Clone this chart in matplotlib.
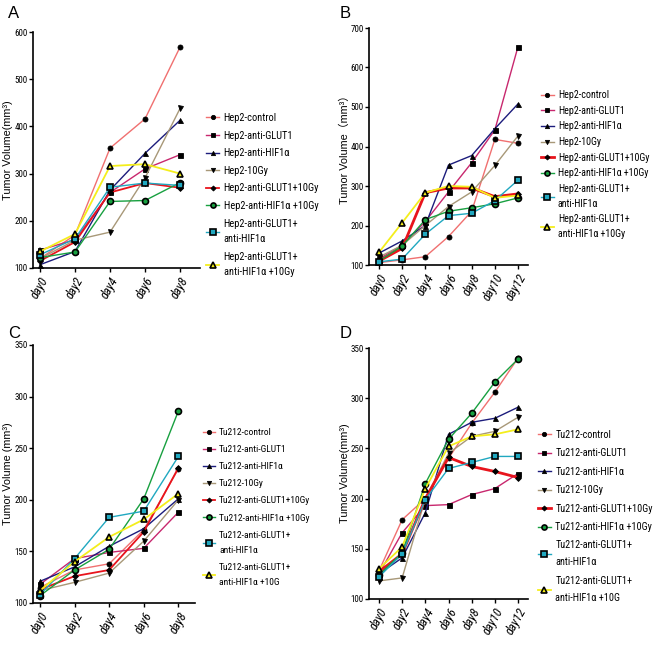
import matplotlib
matplotlib.use("Agg")
import matplotlib.pyplot as plt

plt.rcParams['font.family'] = ['Liberation Sans', 'DejaVu Sans']
narrow = ['Roboto Condensed', 'DejaVu Sans']

# --- data ---
days_short = ["day0", "day2", "day4", "day6", "day8"]
days_long = ["day0", "day2", "day4", "day6", "day8", "day10", "day12"]

# panel A: Hep2, day0-day8
hep2_a_control = [120, 170, 354, 416, 568]
hep2_a_glut1 = [138, 160, 260, 310, 340]
hep2_a_hif1a = [107, 135, 265, 343, 413]
hep2_a_10gy = [120, 159, 176, 291, 438]
hep2_a_glut1_10gy = [115, 155, 260, 280, 270]
hep2_a_hif1a_10gy = [122, 134, 241, 243, 281]
hep2_a_glut1_hif1a = [128, 162, 271, 280, 275]
hep2_a_all = [135, 172, 316, 320, 300]

# panel B: Hep2, day0-day12
hep2_b_control = [106, 113, 121, 172, 236, 418, 408]
hep2_b_glut1 = [115, 150, 210, 285, 359, 442, 653]
hep2_b_hif1a = [130, 161, 200, 353, 377, 445, 508]
hep2_b_10gy = [120, 150, 200, 248, 285, 352, 427]
hep2_b_glut1_10gy = [110, 142, 283, 295, 295, 273, 280]
hep2_b_hif1a_10gy = [110, 148, 215, 236, 245, 255, 270]
hep2_b_glut1_hif1a = [108, 115, 178, 225, 231, 263, 315]
hep2_b_all = [132, 207, 283, 300, 298, 270, 276]

# panel C: Tu212, day0-day8
tu212_c_control = [115, 132, 138, 171, 230]
tu212_c_glut1 = [118, 143, 149, 153, 188]
tu212_c_hif1a = [121, 135, 155, 172, 201]
tu212_c_10gy = [112, 120, 129, 160, 200]
tu212_c_glut1_10gy = [113, 126, 132, 169, 231]
tu212_c_hif1a_10gy = [107, 132, 152, 201, 286]
tu212_c_glut1_hif1a = [108, 143, 183, 189, 242]
tu212_c_all = [112, 140, 164, 181, 206]

# panel D: Tu212, day0-day12
tu212_d_control = [128, 179, 200, 240, 275, 306, 340]
tu212_d_glut1 = [125, 166, 193, 194, 204, 210, 225]
tu212_d_hif1a = [125, 141, 186, 264, 276, 280, 291]
tu212_d_10gy = [118, 121, 200, 245, 262, 267, 281]
tu212_d_glut1_10gy = [127, 145, 200, 241, 232, 227, 221]
tu212_d_hif1a_10gy = [124, 146, 215, 259, 285, 316, 339]
tu212_d_glut1_hif1a = [122, 145, 199, 230, 236, 242, 242]
tu212_d_all = [130, 152, 210, 252, 262, 264, 269]

hep2_labels = ["Hep2-control", "Hep2-anti-GLUT1", "Hep2-anti-HIF1α", "Hep2-10Gy",
               "Hep2-anti-GLUT1+10Gy", "Hep2-anti-HIF1α +10Gy",
               "Hep2-anti-GLUT1+\nanti-HIF1α", "Hep2-anti-GLUT1+\nanti-HIF1α +10Gy"]
tu212_labels = ["Tu212-control", "Tu212-anti-GLUT1", "Tu212-anti-HIF1α", "Tu212-10Gy",
                "Tu212-anti-GLUT1+10Gy", "Tu212-anti-HIF1α +10Gy",
                "Tu212-anti-GLUT1+\nanti-HIF1α", "Tu212-anti-GLUT1+\nanti-HIF1α +10G"]

# --- styles ---
colors = ['#f07070', '#c8286e', '#1c1c7c', '#a89878', '#e8141c', '#18a040', '#20a8c0', '#f4ee1c']
markers = ['o', 's', '^', 'v', 'D', 'o', 's', '^']
open_marker = [False, False, False, False, False, True, True, True]
widths = [1.0, 1.0, 1.0, 1.0, 1.3, 1.0, 1.0, 1.3]

W, H = 655, 645
fig = plt.figure(figsize=(W / 100, H / 100), dpi=100)


def px_axes(left, top, right, bottom):
    return fig.add_axes([left / W, 1 - bottom / H, (right - left) / W, (bottom - top) / H])


def draw_panel(box, days, series, labels, ylim, yticks, ylabel, xlim, ylabel_x,
               leg_xy, leg_font, leg_space, line_sp, thick_red=1.3):
    ax = px_axes(*box)
    x = list(range(len(days)))
    for i, y in enumerate(series):
        lw = thick_red if i == 4 else widths[i]
        face = colors[i] if open_marker[i] else 'black'
        ms = 4.3 if open_marker[i] else 3.6
        if markers[i] == 'D':
            ms = 3.0
        ax.plot(x, y, color=colors[i], lw=lw, marker=markers[i], markersize=ms,
                markerfacecolor=face, markeredgecolor='black',
                markeredgewidth=1.2 if open_marker[i] else 0.6,
                label=labels[i], zorder=2 + i)
    ax.set_xlim(*xlim)
    ax.set_ylim(*ylim)
    ax.set_yticks(yticks)
    ax.set_yticklabels([str(v) for v in yticks], family=narrow, fontsize=6.5)
    ax.set_xticks(x)
    ax.set_xticklabels(days, rotation=60, ha='right', rotation_mode='anchor',
                       fontsize=9, style='italic', family=narrow)
    ax.tick_params(axis='y', length=3, width=1, pad=1)
    ax.tick_params(axis='x', length=3, width=1, pad=2)
    for s in ['top', 'right']:
        ax.spines[s].set_visible(False)
    for s in ['left', 'bottom']:
        ax.spines[s].set_linewidth(1.2)
    ax.set_ylabel(ylabel, fontsize=7.8, family=['Liberation Sans', 'Noto Sans CJK SC'])
    left, top, right, bottom = box
    ax.yaxis.set_label_coords((ylabel_x - left) / (right - left), 0.5)
    leg = ax.legend(loc='upper left', bbox_to_anchor=(leg_xy[0] / W, 1 - leg_xy[1] / H),
                    bbox_transform=fig.transFigure, frameon=False,
                    prop={'family': narrow, 'size': leg_font},
                    borderpad=0, borderaxespad=0, handlelength=1.25, handletextpad=0.45,
                    labelspacing=leg_space, markerscale=0.85)
    for t in leg.get_texts():
        t.set_linespacing(line_sp)
    return ax


axA = draw_panel((33, 32, 200, 268), days_short,
                 [hep2_a_control, hep2_a_glut1, hep2_a_hif1a, hep2_a_10gy,
                  hep2_a_glut1_10gy, hep2_a_hif1a_10gy, hep2_a_glut1_hif1a, hep2_a_all],
                 hep2_labels, (100, 600), [100, 200, 300, 400, 500, 600],
                 "Tumor Volume(mm³)", (-0.2, 4.57), 13.5,
                 (206, 113), 7.5, 0.73, 1.7)

axB = draw_panel((369, 28, 528, 265), days_long,
                 [hep2_b_control, hep2_b_glut1, hep2_b_hif1a, hep2_b_10gy,
                  hep2_b_glut1_10gy, hep2_b_hif1a_10gy, hep2_b_glut1_hif1a, hep2_b_all],
                 hep2_labels, (100, 700), [100, 200, 300, 400, 500, 600, 700],
                 "Tumor Volume（mm³）", (-0.43, 6.43), 350,
                 (541, 90), 7.2, 0.57, 1.55, thick_red=2.0)

axC = draw_panel((33, 345, 195, 603), days_short,
                 [tu212_c_control, tu212_c_glut1, tu212_c_hif1a, tu212_c_10gy,
                  tu212_c_glut1_10gy, tu212_c_hif1a_10gy, tu212_c_glut1_hif1a, tu212_c_all],
                 tu212_labels, (100, 350), [100, 150, 200, 250, 300, 350],
                 "Tumor Volume (mm³)", (-0.2, 4.48), 13.5,
                 (203, 428), 6.8, 0.86, 1.85)

axD = draw_panel((369, 348, 528, 599), days_long,
                 [tu212_d_control, tu212_d_glut1, tu212_d_hif1a, tu212_d_10gy,
                  tu212_d_glut1_10gy, tu212_d_hif1a_10gy, tu212_d_glut1_hif1a, tu212_d_all],
                 tu212_labels, (100, 350), [100, 150, 200, 250, 300, 350],
                 "Tumor Volume(mm³)", (-0.43, 6.43), 350,
                 (538, 430), 7.3, 0.83, 1.85, thick_red=2.0)

for letter, (lx, ly) in zip("ABCD", [(8, 14), (340, 14), (8, 333), (340, 333)]):
    fig.text(lx / W, 1 - ly / H, letter, fontsize=12, va='center', ha='left')

fig.savefig("out.png", dpi=100)
